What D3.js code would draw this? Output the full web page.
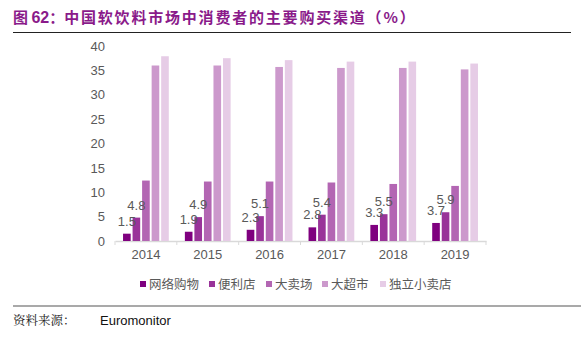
<!DOCTYPE html>
<html><head><meta charset="utf-8">
<script src="https://cdn.jsdelivr.net/npm/d3@7"></script>
<style>
body{margin:0;background:#fff;}
svg{display:block;}
</style></head>
<body>
<script>
const years = ["2014","2015","2016","2017","2018","2019"];
const seriesNames = ["网络购物","便利店","大卖场","大超市","独立小卖店"];
const onlineShopping = [1.5,1.9,2.3,2.8,3.3,3.7];
const convenienceStore = [4.8,4.9,5.1,5.4,5.5,5.9];
const hypermarket = [12.4,12.2,12.2,12.0,11.7,11.3];
const supermarket = [36.0,36.0,35.7,35.5,35.5,35.2];
const independentShop = [37.9,37.5,37.1,36.8,36.8,36.4];
const yTicks = [0,5,10,15,20,25,30,35,40];
const seriesValues = [onlineShopping, convenienceStore, hypermarket, supermarket, independentShop];
const labelledSeries = [0,1];
const colors = ["#7f007f","#993399","#b366b3","#cc99cc","#e6cce6"];

const W=581,H=338;
const svg=d3.select("body").append("svg").attr("width",W).attr("height",H);

// title
const title = svg.append("text").attr("x",13).attr("y",23).attr("fill","#8a1a8a")
  .style("font-family","'Noto Sans CJK SC', sans-serif").style("font-size","15px").style("font-weight","bold");
title.append("tspan").text("图 ");
title.append("tspan").style("font-family","'Liberation Sans', Arial, sans-serif").style("font-size","16px").text("62");
title.append("tspan").text("：");
title.append("tspan").attr("letter-spacing","1.8").text("中国软饮料市场中消费者的主要购买渠道（%）");
svg.append("line").attr("x1",13).attr("x2",571).attr("y1",32.5).attr("y2",32.5).attr("stroke","#222").attr("stroke-width",1.2);

const x0=d3.scaleBand().domain(years).range([115,486]).paddingInner(0.26).paddingOuter(0.13);
const x1=d3.scaleBand().domain(d3.range(seriesNames.length)).range([0,x0.bandwidth()]).paddingInner(0.2);
const y=d3.scaleLinear().domain([0,40]).range([241,46]);

// axis baseline
const xAxis=d3.axisBottom(d3.scaleBand().domain(years).range([115,486])).tickSize(0).tickPadding(9);
const gx=svg.append("g").attr("transform","translate(0,241)").call(xAxis);
gx.select(".domain").attr("stroke","#d9d9d9").attr("stroke-width",1.5);
gx.selectAll("text").attr("fill","#595959").style("font-family","'Liberation Sans', Arial, sans-serif").style("font-size","13px");
// category separator ticks
const sepScale=d3.scaleBand().domain(years).range([115,486]);
svg.append("g").selectAll("line").data(years.concat(["end"])).join("line")
  .attr("x1",(d,i)=>115+i*sepScale.step()).attr("x2",(d,i)=>115+i*sepScale.step())
  .attr("y1",241).attr("y2",245).attr("stroke","#d9d9d9");

const yAxis=d3.axisLeft(y).tickValues(yTicks).tickSize(0).tickPadding(10);
const gy=svg.append("g").attr("transform","translate(115,0)").call(yAxis);
gy.select(".domain").remove();
gy.selectAll("text").attr("fill","#595959").style("font-family","'Liberation Sans', Arial, sans-serif").style("font-size","13px");

// bars
seriesValues.forEach((vals,si)=>{
  svg.append("g").selectAll("rect").data(vals).join("rect")
    .attr("x",(d,i)=>x0(years[i])+x1(si))
    .attr("width",x1.bandwidth())
    .attr("y",d=>y(d)).attr("height",d=>241-y(d))
    .attr("fill",colors[si]);
});
// labels
labelledSeries.forEach(si=>{
  svg.append("g").selectAll("text").data(seriesValues[si]).join("text")
    .attr("x",(d,i)=>x0(years[i])+x1(si)+x1.bandwidth()/2)
    .attr("y",d=>y(d)-8)
    .attr("text-anchor","middle").attr("fill","#595959")
    .style("font-family","'Liberation Sans', Arial, sans-serif").style("font-size","13px")
    .text(d=>d.toFixed(1));
});

// legend
const legendX=[140,209,266,322,380];
const lg=svg.append("g").selectAll("g").data(seriesNames).join("g")
  .attr("transform",(d,i)=>`translate(${legendX[i]},284)`);
lg.append("rect").attr("x",0).attr("y",-3).attr("width",6).attr("height",6).attr("fill",(d,i)=>colors[i]);
lg.append("text").attr("x",9).attr("y",4.5).attr("fill","#595959")
  .style("font-family","'Noto Sans CJK SC', sans-serif").style("font-size","12.5px").text(d=>d);

// footer
svg.append("line").attr("x1",13).attr("x2",581).attr("y1",306).attr("y2",306).attr("stroke","#8c8c8c").attr("stroke-width",1.5);
svg.append("text").attr("x",13).attr("y",325).attr("fill","#222")
  .style("font-family","'Noto Serif CJK SC','Noto Sans CJK SC', serif").style("font-size","12.5px").text("资料来源：");
svg.append("text").attr("x",100).attr("y",325).attr("fill","#111")
  .style("font-family","'Liberation Sans', Arial, sans-serif").style("font-size","13px").text("Euromonitor");
</script>
</body></html>
